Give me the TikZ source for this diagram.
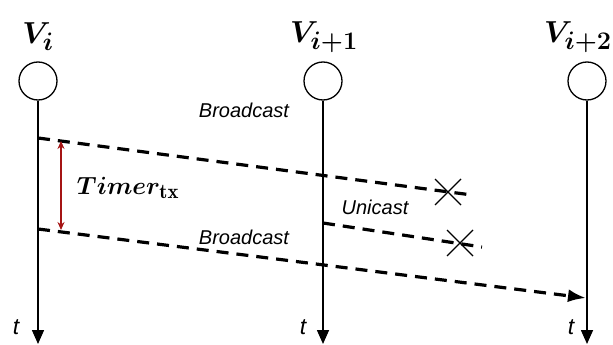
\documentclass[tikz,border=0pt]{standalone}
\usepackage{amsmath}
\usepackage{bm}
\usepackage{graphicx}
\usepackage{fontspec}
\setsansfont{Liberation Sans}
\usepackage{xcolor}
\definecolor{timercolor}{RGB}{165, 20, 20}
\usetikzlibrary{positioning, arrows.meta}
\newcommand{\bigmath}[1]{\scalebox{1.22}{$\boldsymbol{#1}$}}

\begin{document}
\begin{tikzpicture}[x=1pt, y=-1pt,
  station/.style={circle, draw, line width=1.3pt, minimum size=38pt, inner sep=0pt},
  lifeline/.style={line width=1.6pt, -{Triangle[length=14pt, width=12pt]}},
  msg/.style={line width=3.2pt, dash pattern=on 12pt off 8pt},
  lost/.style={line width=1.2pt},
  vname/.style={font=\fontsize{24.88}{28}\selectfont},
  msglabel/.style={font=\fontsize{20}{23}\selectfont\sffamily\itshape},
  tlabel/.style={font=\fontsize{23}{26}\selectfont\sffamily\itshape}]
  \useasboundingbox (0,0) rectangle (613,345);

  % Stations
  \node[station] (vi) at (38,81) {};
  \node[station] (vj) at (323,81) {};
  \node[station] (vk) at (587,81) {};
  \node[vname] (vi-name) at (38,37) {\bigmath{V_{i}}};
  \node[vname] (vj-name) at (324,37) {\bigmath{V_{i+1}}};
  \node[vname, anchor=east, inner sep=1pt] (vk-name) at (613,37) {\bigmath{V_{i+2}}};

  % Time axes
  \coordinate (vi-end) at (38,344);
  \coordinate (vj-end) at (323,344);
  \coordinate (vk-end) at (587,344);
  \draw[lifeline] (vi.south) -- (vi-end);
  \draw[lifeline] (vj.south) -- (vj-end);
  \draw[lifeline] (vk.south) -- (vk-end);
  \node[tlabel] (vi-t) at (16,327) {t};
  \node[tlabel] (vj-t) at (303,327) {t};
  \node[tlabel] (vk-t) at (571,327) {t};

  % First broadcast, lost
  \coordinate (b1-start) at (38,138);
  \coordinate (b1-end) at (472,195);
  \coordinate (b1-lost) at (448,192);
  \draw[msg] (b1-start) -- (b1-end);
  \draw[lost] (b1-lost) +(-13,-13) -- +(13,13) (b1-lost) +(-13,13) -- +(13,-13);
  \node[msglabel] (b1-name) at (244,110) {Broadcast};

  % Unicast, lost
  \coordinate (u-start) at (323,223);
  \coordinate (u-end) at (482,247);
  \coordinate (u-lost) at (460,243);
  \draw[msg] (u-start) -- (u-end);
  \draw[lost] (u-lost) +(-13,-13) -- +(13,13) (u-lost) +(-13,13) -- +(13,-13);
  \node[msglabel] (u-name) at (375,207) {Unicast};

  % Second broadcast, received
  \coordinate (b2-start) at (38,229);
  \coordinate (b2-end) at (586,298);
  \draw[msg, -{Latex[length=18pt, width=13pt]}] (b2-start) -- (b2-end);
  \node[msglabel] (b2-name) at (244,237) {Broadcast};

  % Retransmission timer
  \coordinate (tm-top) at (61,141);
  \coordinate (tm-bot) at (61,230);
  \draw[timercolor, line width=1.3pt, {Stealth[length=8pt, width=7pt]}-{Stealth[length=8pt, width=7pt]}] (tm-top) -- (tm-bot);
  \node[vname] (tm-name) at (128,188) {$\boldsymbol{Timer}_{\mathbf{tx}}$};
\end{tikzpicture}
\end{document}
